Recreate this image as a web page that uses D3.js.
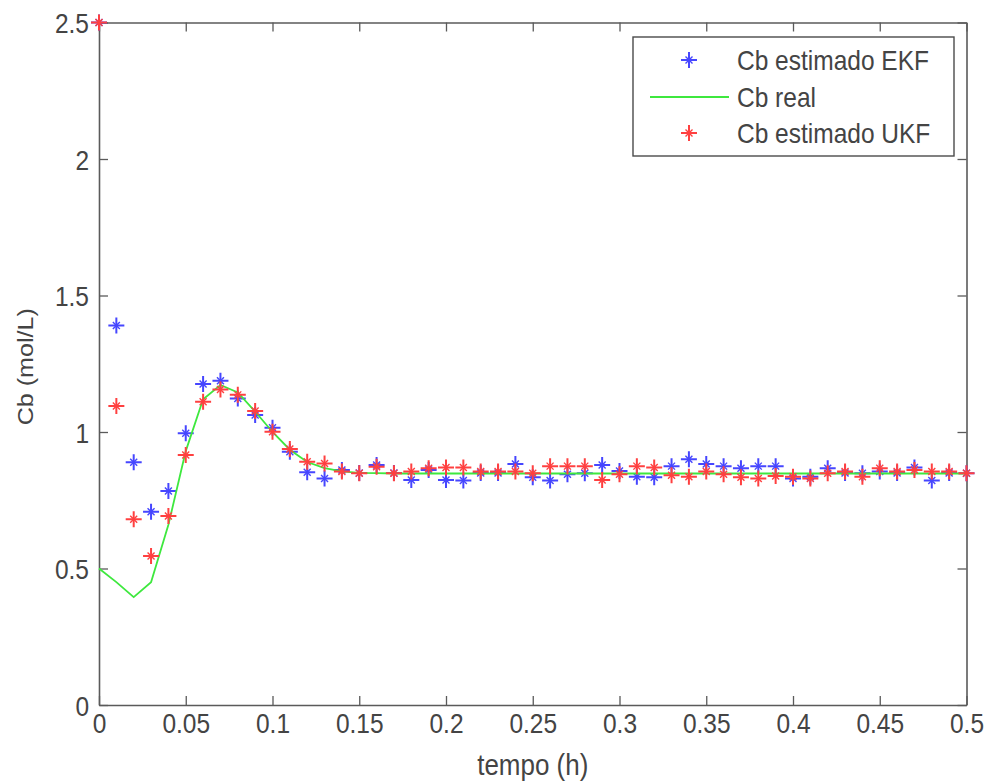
<!DOCTYPE html>
<html>
<head>
<meta charset="utf-8">
<script src="https://cdn.jsdelivr.net/npm/d3@7"></script>
<style>
  html, body { margin: 0; padding: 0; background: #fff; }
  svg { display: block; }
  text { font-family: "Liberation Sans", Arial, sans-serif; fill: #444; }
</style>
</head>
<body>
<svg id="chart" width="988" height="784"></svg>
<script>
// Sample instants (h)
const tempo = [0, 0.01, 0.02, 0.03, 0.04, 0.05, 0.06, 0.07, 0.08, 0.09,
  0.10, 0.11, 0.12, 0.13, 0.14, 0.15, 0.16, 0.17, 0.18, 0.19,
  0.20, 0.21, 0.22, 0.23, 0.24, 0.25, 0.26, 0.27, 0.28, 0.29,
  0.30, 0.31, 0.32, 0.33, 0.34, 0.35, 0.36, 0.37, 0.38, 0.39,
  0.40, 0.41, 0.42, 0.43, 0.44, 0.45, 0.46, 0.47, 0.48, 0.49, 0.50];

// Cb estimated by the extended Kalman filter (mol/L)
const cbEKF = [2.5, 1.39, 0.889, 0.708, 0.784, 0.995, 1.176, 1.188, 1.123, 1.062,
  1.016, 0.928, 0.853, 0.830, 0.861, 0.850, 0.879, 0.850, 0.824, 0.861,
  0.824, 0.822, 0.850, 0.850, 0.883, 0.834, 0.822, 0.845, 0.849, 0.879,
  0.857, 0.836, 0.834, 0.875, 0.900, 0.883, 0.875, 0.867, 0.875, 0.875,
  0.830, 0.836, 0.867, 0.850, 0.849, 0.855, 0.850, 0.870, 0.822, 0.850, 0.849];

// Actual Cb (mol/L)
const cbReal = [0.5, 0.45, 0.395, 0.45, 0.66, 0.93, 1.12, 1.172, 1.145, 1.075,
  1.0, 0.935, 0.89, 0.868, 0.856, 0.85, 0.849, 0.848, 0.848, 0.848,
  0.848, 0.848, 0.848, 0.848, 0.848, 0.848, 0.848, 0.848, 0.848, 0.848,
  0.848, 0.848, 0.848, 0.848, 0.848, 0.848, 0.848, 0.848, 0.848, 0.848,
  0.848, 0.848, 0.848, 0.848, 0.848, 0.848, 0.848, 0.848, 0.848, 0.848, 0.848];

// Cb estimated by the unscented Kalman filter (mol/L)
const cbUKF = [2.5, 1.095, 0.680, 0.546, 0.692, 0.916, 1.111, 1.156, 1.136, 1.077,
  1.001, 0.938, 0.891, 0.885, 0.855, 0.849, 0.873, 0.849, 0.855, 0.867,
  0.870, 0.870, 0.855, 0.855, 0.855, 0.849, 0.875, 0.875, 0.875, 0.824,
  0.845, 0.875, 0.870, 0.842, 0.836, 0.855, 0.845, 0.834, 0.830, 0.839,
  0.836, 0.830, 0.849, 0.855, 0.836, 0.867, 0.855, 0.861, 0.855, 0.855, 0.849];

const xTicks = [0, 0.05, 0.1, 0.15, 0.2, 0.25, 0.3, 0.35, 0.4, 0.45, 0.5];
const xTickLabels = ["0", "0.05", "0.1", "0.15", "0.2", "0.25", "0.3", "0.35", "0.4", "0.45", "0.5"];
const yTicks = [0, 0.5, 1, 1.5, 2, 2.5];
const yTickLabels = ["0", "0.5", "1", "1.5", "2", "2.5"];

const seriesNames = ["Cb estimado EKF", "Cb real", "Cb estimado UKF"];
const seriesColors = ["#4646ff", "#3ee83e", "#ff4040"];

// Layout
const plot = { left: 99, right: 966.5, top: 22.5, bottom: 705 };
const stretch = 1.14; // tall glyph aspect used for all labels
const axisColor = "#5a5a5a";
const labelColor = "#444";

const svg = d3.select("#chart");

const x = d3.scaleLinear().domain([0, 0.5]).range([plot.left, plot.right]);
const y = d3.scaleLinear().domain([0, 2.5]).range([plot.bottom, plot.top]);

// Axes with inward ticks on all four sides (boxed frame)
function styleAxis(g) {
  g.select(".domain").attr("stroke", axisColor).attr("stroke-width", 1.6);
  g.selectAll(".tick line").attr("stroke", axisColor).attr("stroke-width", 1.3);
}

const gBottom = svg.append("g")
  .attr("transform", `translate(0,${plot.bottom})`)
  .call(d3.axisBottom(x).tickValues(xTicks)
    .tickFormat((d, i) => xTickLabels[i])
    .tickSizeInner(-9).tickSizeOuter(0));
styleAxis(gBottom);
gBottom.selectAll(".tick text")
  .attr("y", null).attr("dy", null)
  .attr("transform", `translate(0,28) scale(1,${stretch})`)
  .attr("font-size", 24.5)
  .attr("fill", labelColor)
  .attr("font-family", "Liberation Sans, Arial, sans-serif");

const gTop = svg.append("g")
  .attr("transform", `translate(0,${plot.top})`)
  .call(d3.axisTop(x).tickValues(xTicks).tickFormat("")
    .tickSizeInner(-9).tickSizeOuter(0));
styleAxis(gTop);

const gLeft = svg.append("g")
  .attr("transform", `translate(${plot.left},0)`)
  .call(d3.axisLeft(y).tickValues(yTicks)
    .tickFormat((d, i) => yTickLabels[i])
    .tickSizeInner(-9).tickSizeOuter(0));
styleAxis(gLeft);
gLeft.selectAll(".tick text")
  .attr("x", null).attr("dy", null)
  .attr("text-anchor", "end")
  .attr("transform", `translate(-10,10) scale(1,${stretch})`)
  .attr("font-size", 24.5)
  .attr("fill", labelColor)
  .attr("font-family", "Liberation Sans, Arial, sans-serif");

const gRight = svg.append("g")
  .attr("transform", `translate(${plot.right},0)`)
  .call(d3.axisRight(y).tickValues(yTicks).tickFormat("")
    .tickSizeInner(-9).tickSizeOuter(0));
styleAxis(gRight);

// Axis titles
svg.append("text")
  .attr("transform", `translate(${(plot.left + plot.right) / 2},775) scale(1,${stretch})`)
  .attr("text-anchor", "middle")
  .attr("font-size", 26)
  .attr("fill", "#1e1e1e")
  .text("tempo (h)");

svg.append("text")
  .attr("transform", `translate(33,${(plot.top + plot.bottom) / 2 + 3}) rotate(-90) scale(${stretch},1)`)
  .attr("text-anchor", "middle")
  .attr("font-size", 22)
  .text("Cb (mol/L)");

// Star marker: a long plus with a short diagonal cross
const plusPath = "M-8,0H8M0,-8V8";
const crossPath = "M-3.5,-3.5L3.5,3.5M-3.5,3.5L3.5,-3.5";

const plotArea = svg.append("g");

function star(sel, color) {
  sel.append("path").attr("d", plusPath).attr("fill", "none")
    .attr("stroke", color).attr("stroke-width", 2);
  sel.append("path").attr("d", crossPath).attr("fill", "none")
    .attr("stroke", color).attr("stroke-width", 1.4);
}

function drawStars(values, color) {
  plotArea.append("g").selectAll("g")
    .data(values)
    .join("g")
    .attr("transform", (d, i) => `translate(${x(tempo[i])},${y(d)})`)
    .call(star, color);
}

drawStars(cbEKF, seriesColors[0]);

plotArea.append("path")
  .datum(cbReal)
  .attr("fill", "none")
  .attr("stroke", seriesColors[1])
  .attr("stroke-width", 1.8)
  .attr("d", d3.line().x((d, i) => x(tempo[i])).y(d => y(d)));

drawStars(cbUKF, seriesColors[2]);

// Legend
const legend = svg.append("g");
legend.append("rect")
  .attr("x", 633).attr("y", 37).attr("width", 321).attr("height", 119)
  .attr("fill", "#fff").attr("stroke", "#4a4a4a").attr("stroke-width", 1.4);

const rowsY = [60, 97, 133];
seriesNames.forEach((name, i) => {
  const row = legend.append("g").attr("transform", `translate(0,${rowsY[i]})`);
  if (i === 1) {
    row.append("line").attr("x1", 650).attr("x2", 729).attr("y1", 0).attr("y2", 0)
      .attr("stroke", seriesColors[i]).attr("stroke-width", 1.8);
  } else {
    row.append("g").attr("transform", "translate(689,0)").call(star, seriesColors[i]);
  }
  row.append("text")
    .attr("transform", `translate(737,10) scale(1,${stretch})`)
    .attr("font-size", 24.5)
    .attr("fill", labelColor)
    .text(name);
});
</script>
</body>
</html>
